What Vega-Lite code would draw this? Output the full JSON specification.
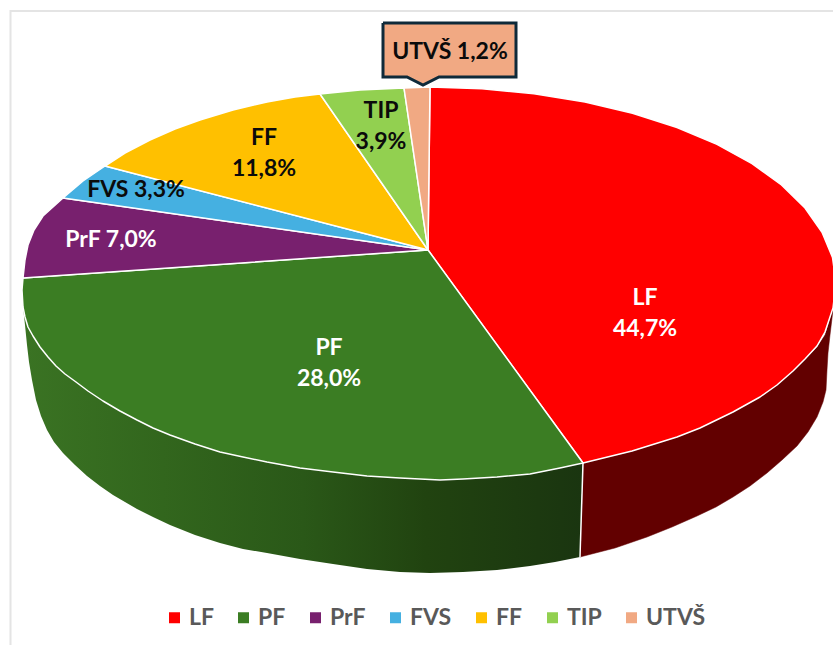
{
"$schema":"https://vega.github.io/schema/vega-lite/v6.json",
"width":833,"height":645,"padding":0,"autosize":{"type":"none"},
"background":"white",
"view":{"stroke":null},
"config":{"font":"Lato","view":{"stroke":null}},
"datasets":{
"frame":[{"i":1,"x":10.5,"y":645},{"i":2,"x":10.5,"y":11},{"i":3,"x":833,"y":11}],
"sideRed":[{"i":1,"x":833,"y":308},{"i":2,"x":825,"y":335},{"i":3,"x":817,"y":347},{"i":4,"x":805,"y":359},{"i":5,"x":793,"y":370},{"i":6,"x":777,"y":384},{"i":7,"x":760,"y":397},{"i":8,"x":733,"y":412},{"i":9,"x":700,"y":428},{"i":10,"x":677,"y":437},{"i":11,"x":632,"y":451},{"i":12,"x":583,"y":463},{"i":13,"x":580,"y":557},{"i":14,"x":615,"y":548},{"i":15,"x":647,"y":537},{"i":16,"x":672,"y":527},{"i":17,"x":697,"y":516},{"i":18,"x":716,"y":507},{"i":19,"x":733,"y":497},{"i":20,"x":750,"y":486},{"i":21,"x":767,"y":473},{"i":22,"x":782,"y":460},{"i":23,"x":797,"y":446},{"i":24,"x":808,"y":432},{"i":25,"x":817,"y":417},{"i":26,"x":823,"y":402},{"i":27,"x":826,"y":390},{"i":28,"x":827,"y":370},{"i":29,"x":828,"y":353},{"i":30,"x":830,"y":335},{"i":31,"x":833,"y":310},{"i":32,"x":833,"y":308}],
"sideGreen":[{"i":1,"x":23,"y":307},{"i":2,"x":25,"y":325},{"i":3,"x":27,"y":345},{"i":4,"x":29,"y":362},{"i":5,"x":32,"y":380},{"i":6,"x":36,"y":400},{"i":7,"x":41,"y":416},{"i":8,"x":47,"y":430},{"i":9,"x":54,"y":442},{"i":10,"x":63,"y":453},{"i":11,"x":75,"y":465},{"i":12,"x":87,"y":476},{"i":13,"x":100,"y":486},{"i":14,"x":113,"y":495},{"i":15,"x":125,"y":502},{"i":16,"x":137,"y":509},{"i":17,"x":153,"y":517},{"i":18,"x":170,"y":525},{"i":19,"x":195,"y":535},{"i":20,"x":220,"y":543},{"i":21,"x":243,"y":549},{"i":22,"x":267,"y":553},{"i":23,"x":300,"y":559},{"i":24,"x":333,"y":564},{"i":25,"x":367,"y":569},{"i":26,"x":400,"y":572},{"i":27,"x":430,"y":573},{"i":28,"x":463,"y":572},{"i":29,"x":497,"y":570},{"i":30,"x":530,"y":566},{"i":31,"x":555,"y":562},{"i":32,"x":580,"y":557},{"i":33,"x":583,"y":463},{"i":34,"x":430,"y":470},{"i":35,"x":140,"y":415},{"i":36,"x":50,"y":350},{"i":37,"x":23,"y":307}],
"seam":[{"i":1,"x":583,"y":463},{"i":2,"x":580,"y":557}],
"faces":[
{"slice":"LF","i":0,"x":428,"y":250},{"slice":"LF","i":1,"x":430,"y":87},{"slice":"LF","i":2,"x":482,"y":88.7},{"slice":"LF","i":3,"x":534,"y":93.7},{"slice":"LF","i":4,"x":585,"y":101.9},{"slice":"LF","i":5,"x":632.5,"y":113.3},{"slice":"LF","i":6,"x":677,"y":127.5},{"slice":"LF","i":7,"x":717,"y":144.4},{"slice":"LF","i":8,"x":752,"y":163.7},{"slice":"LF","i":9,"x":781.5,"y":185},{"slice":"LF","i":10,"x":805,"y":208},{"slice":"LF","i":11,"x":822,"y":232.3},{"slice":"LF","i":12,"x":832.5,"y":257.4},{"slice":"LF","i":13,"x":836,"y":283},{"slice":"LF","i":14,"x":833,"y":308},{"slice":"LF","i":15,"x":825,"y":332},{"slice":"LF","i":16,"x":817,"y":346},{"slice":"LF","i":17,"x":805,"y":359},{"slice":"LF","i":18,"x":793,"y":371},{"slice":"LF","i":19,"x":777,"y":385},{"slice":"LF","i":20,"x":760,"y":397},{"slice":"LF","i":21,"x":733,"y":412},{"slice":"LF","i":22,"x":700,"y":428},{"slice":"LF","i":23,"x":677,"y":437},{"slice":"LF","i":24,"x":632,"y":451},{"slice":"LF","i":25,"x":583,"y":463},{"slice":"LF","i":26,"x":428,"y":250},
{"slice":"PF","i":0,"x":428,"y":250},{"slice":"PF","i":1,"x":583,"y":463},{"slice":"PF","i":2,"x":560,"y":468},{"slice":"PF","i":3,"x":530,"y":474},{"slice":"PF","i":4,"x":497,"y":477},{"slice":"PF","i":5,"x":463,"y":479},{"slice":"PF","i":6,"x":440,"y":480},{"slice":"PF","i":7,"x":400,"y":478},{"slice":"PF","i":8,"x":367,"y":476},{"slice":"PF","i":9,"x":333,"y":472},{"slice":"PF","i":10,"x":300,"y":468},{"slice":"PF","i":11,"x":267,"y":462},{"slice":"PF","i":12,"x":243,"y":457},{"slice":"PF","i":13,"x":220,"y":452},{"slice":"PF","i":14,"x":195,"y":444},{"slice":"PF","i":15,"x":170,"y":435},{"slice":"PF","i":16,"x":153,"y":428},{"slice":"PF","i":17,"x":137,"y":420},{"slice":"PF","i":18,"x":120,"y":411},{"slice":"PF","i":19,"x":103,"y":401},{"slice":"PF","i":20,"x":88,"y":391},{"slice":"PF","i":21,"x":76,"y":382},{"slice":"PF","i":22,"x":65,"y":374},{"slice":"PF","i":23,"x":56,"y":366},{"slice":"PF","i":24,"x":48,"y":357},{"slice":"PF","i":25,"x":40,"y":347},{"slice":"PF","i":26,"x":33,"y":336},{"slice":"PF","i":27,"x":28,"y":327},{"slice":"PF","i":28,"x":25,"y":317},{"slice":"PF","i":29,"x":23,"y":307},{"slice":"PF","i":30,"x":22,"y":290},{"slice":"PF","i":31,"x":23,"y":278},{"slice":"PF","i":32,"x":428,"y":250},
{"slice":"PrF","i":0,"x":428,"y":250},{"slice":"PrF","i":1,"x":23,"y":278},{"slice":"PrF","i":2,"x":25,"y":260},{"slice":"PrF","i":3,"x":28,"y":245},{"slice":"PrF","i":4,"x":34,"y":230},{"slice":"PrF","i":5,"x":43,"y":216},{"slice":"PrF","i":6,"x":63,"y":198},{"slice":"PrF","i":7,"x":428,"y":250},
{"slice":"FVS","i":0,"x":428,"y":250},{"slice":"FVS","i":1,"x":63,"y":198},{"slice":"FVS","i":2,"x":83,"y":181},{"slice":"FVS","i":3,"x":105,"y":166},{"slice":"FVS","i":4,"x":428,"y":250},
{"slice":"FF","i":0,"x":428,"y":250},{"slice":"FF","i":1,"x":105,"y":166},{"slice":"FF","i":2,"x":125,"y":153},{"slice":"FF","i":3,"x":150,"y":140},{"slice":"FF","i":4,"x":175,"y":129},{"slice":"FF","i":5,"x":200,"y":120},{"slice":"FF","i":6,"x":233,"y":110},{"slice":"FF","i":7,"x":267,"y":102},{"slice":"FF","i":8,"x":295,"y":97},{"slice":"FF","i":9,"x":320,"y":94},{"slice":"FF","i":10,"x":428,"y":250},
{"slice":"TIP","i":0,"x":428,"y":250},{"slice":"TIP","i":1,"x":320,"y":94},{"slice":"TIP","i":2,"x":360,"y":90},{"slice":"TIP","i":3,"x":404,"y":88},{"slice":"TIP","i":4,"x":428,"y":250},
{"slice":"UTVŠ","i":0,"x":428,"y":250},{"slice":"UTVŠ","i":1,"x":404,"y":88},{"slice":"UTVŠ","i":2,"x":430,"y":87},{"slice":"UTVŠ","i":3,"x":428,"y":250}
],
"callout":[{"i":1,"x":383,"y":23},{"i":2,"x":516,"y":23},{"i":3,"x":516,"y":77},{"i":4,"x":439,"y":77},{"i":5,"x":423,"y":85},{"i":6,"x":407,"y":77},{"i":7,"x":383,"y":77},{"i":8,"x":383,"y":23}],
"labels":[
{"slice":"LF","share":44.7,"label":"LF\n44,7%","x":645,"y":298},
{"slice":"PF","share":28.0,"label":"PF\n28,0%","x":329,"y":348},
{"slice":"PrF","share":7.0,"label":"PrF 7,0%","x":111,"y":240},
{"slice":"FVS","share":3.3,"label":"FVS 3,3%","x":136,"y":190},
{"slice":"FF","share":11.8,"label":"FF\n11,8%","x":264,"y":138},
{"slice":"TIP","share":3.9,"label":"TIP\n3,9%","x":381,"y":111},
{"slice":"UTVŠ","share":1.2,"label":"UTVŠ  1,2%","x":450,"y":52}
]
},
"encoding":{
"x":{"field":"x","type":"quantitative","axis":null,"scale":{"domain":[0,833],"range":[0,833],"nice":false,"zero":false}},
"y":{"field":"y","type":"quantitative","axis":null,"scale":{"domain":[0,645],"range":[0,645],"nice":false,"zero":false}}
},
"layer":[
{"data":{"name":"frame"},"mark":{"type":"line","stroke":"#e4e4e4","strokeWidth":2,"clip":true},"encoding":{"order":{"field":"i"}}},
{"data":{"name":"sideRed"},"mark":{"type":"line","fill":"#620000","stroke":"#620000","strokeWidth":0.5,"clip":true},"encoding":{"order":{"field":"i"}}},
{"data":{"name":"sideGreen"},"mark":{"type":"line","strokeWidth":0,"clip":true,"fill":{"gradient":"linear","x1":0,"y1":0,"x2":1,"y2":0,"stops":[{"offset":0,"color":"#3a7323"},{"offset":0.25,"color":"#32661d"},{"offset":0.5,"color":"#2a5818"},{"offset":0.72,"color":"#214310"},{"offset":1,"color":"#1a3510"}]}},"encoding":{"order":{"field":"i"}}},
{"data":{"name":"seam"},"mark":{"type":"line","stroke":"white","strokeWidth":1.5},"encoding":{"order":{"field":"i"}}},
{"data":{"name":"faces"},"mark":{"type":"line","stroke":"white","strokeWidth":1.5,"clip":true,"strokeJoin":"round"},
 "encoding":{"order":{"field":"i"},
  "fill":{"field":"slice","type":"nominal","sort":null,"scale":{"domain":["LF","PF","PrF","FVS","FF","TIP","UTVŠ"],"range":["#FF0000","#3B7D23","#78206E","#45B0E1","#FFC000","#92D050","#F1A983"]},
   "legend":{"title":null,"orient":"none","legendX":163,"legendY":606,"direction":"horizontal","columns":7,"symbolType":"square","symbolSize":121,"symbolStrokeWidth":0,"symbolOffset":0,"labelFontSize":23,"labelFont":"Lato","labelFontWeight":"bold","labelColor":"#595959","labelOffset":3,"columnPadding":18,"padding":0}}}},
{"data":{"name":"callout"},"mark":{"type":"line","fill":"#F1A983","stroke":"#0E2A3A","strokeWidth":3,"strokeJoin":"miter"},"encoding":{"order":{"field":"i"}}},
{"data":{"name":"labels"},"mark":{"type":"text","font":"Lato","fontWeight":"bold","fontSize":23,"lineBreak":"\n","lineHeight":31,"align":"center","baseline":"middle"},
 "encoding":{"text":{"field":"label"},
  "color":{"condition":{"test":"indexof(['LF','PF','PrF'],datum.slice)>=0","value":"#FFFFFF"},"value":"#0b0b0b"}}}
]
}
